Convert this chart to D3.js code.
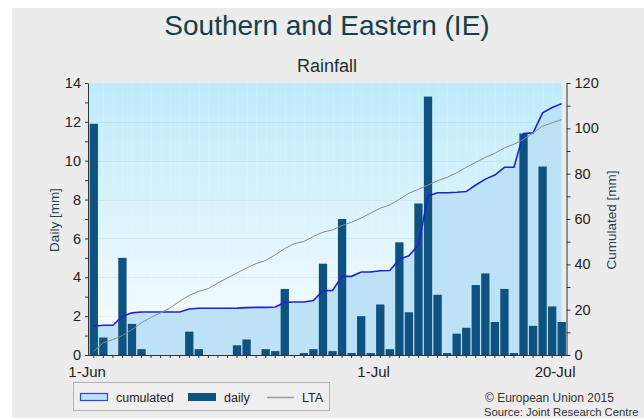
<!DOCTYPE html>
<html>
<head>
<meta charset="utf-8">
<script src="https://cdn.jsdelivr.net/npm/d3@7"></script>
<style>
    body { margin: 0; background: #fff; }
    svg { display: block; }
    text { font-family: "Liberation Sans", Arial, sans-serif; }
</style>
</head>
<body>
<div id="chart"></div>
<script>
// daily categories: 1 Jun - 20 Jul 2015
const days = d3.timeDay.range(new Date(2015, 5, 1), new Date(2015, 6, 21));

const dailyRain = [11.9, 0.9, 0, 5.0, 1.6, 0.3, 0, 0, 0, 0,
    1.2, 0.3, 0, 0, 0, 0.5, 0.8, 0, 0.3, 0.2,
    3.4, 0, 0.1, 0.3, 4.7, 0.2, 7.0, 0.1, 2.0, 0.1,
    2.6, 0.3, 5.8, 2.2, 7.8, 13.3, 3.1, 0.1, 1.1, 1.4,
    3.6, 4.2, 1.7, 3.4, 0.1, 11.4, 1.5, 9.7, 2.5, 1.7];

const cumulatedRain = [12.7, 13.1, 13.1, 17.1, 18.6, 19.0, 19.0, 19.0, 19.0, 19.0,
    20.3, 20.6, 20.6, 20.6, 20.6, 20.7, 20.9, 21.0, 21.0, 21.2,
    23.2, 23.4, 23.4, 24.0, 28.4, 28.5, 34.7, 34.7, 36.6, 36.6,
    37.2, 37.3, 42.3, 43.8, 48.6, 70.2, 71.6, 71.6, 71.8, 72.1,
    75.0, 77.6, 79.4, 82.8, 82.8, 97.7, 98.0, 106.8, 109.2, 110.9];

const ltaRain = [1.7, 5.4, 6.8, 8.6, 11.2, 14.2, 16.6, 18.6, 20.8, 23.7,
    26.3, 28.1, 29.3, 31.8, 34.0, 36.2, 38.4, 40.3, 41.7, 44.2,
    47.0, 49.1, 50.1, 52.3, 54.2, 55.2, 57.1, 58.6, 60.4, 62.6,
    64.8, 66.2, 68.7, 71.4, 73.1, 75.0, 76.9, 78.4, 80.4, 82.8,
    85.0, 87.2, 89.0, 91.4, 93.0, 95.1, 98.0, 101.0, 102.4, 103.9];

const xTickIndex = [0, 30, 49];
const xTickLabels = ['1-Jun', '1-Jul', '20-Jul'];
const dailyTicks = [0, 1, 2, 3, 4, 5, 6, 7, 8, 9, 10, 11, 12, 13, 14];
const cumulatedTicks = [0, 10, 20, 30, 40, 50, 60, 70, 80, 90, 100, 110, 120];

class RainfallChart {
    constructor(container) {
        this.container = container;
        this.width = 644;
        this.height = 418;
        this.plot = { left: 89, right: 566.5, top: 83, bottom: 355 };
        this.renderChart();
        this.renderLegend();
    }

    renderChart() {
        const svg = d3.select(this.container)
            .append('svg')
            .attr('width', this.width)
            .attr('height', this.height);
        this.svg = svg;

        svg.append('rect')
            .attr('x', 12)
            .attr('y', 8)
            .attr('width', this.width - 12)
            .attr('height', this.height - 8)
            .attr('fill', '#ececec');

        const grad = svg.append('defs').append('linearGradient')
            .attr('id', 'plotBg')
            .attr('x1', 0).attr('y1', 0).attr('x2', 0).attr('y2', 1);
        grad.append('stop').attr('offset', '0%').attr('stop-color', '#bdebfb');
        grad.append('stop').attr('offset', '100%').attr('stop-color', '#fbfdfe');

        const idx = d3.range(days.length);

        const xScale = d3.scaleBand()
            .domain(idx)
            .range([this.plot.left, this.plot.right])
            .paddingInner(0.13)
            .paddingOuter(0.065);
        const cx = i => xScale(i) + xScale.bandwidth() / 2;

        const yDaily = d3.scaleLinear().domain([0, 14]).range([this.plot.bottom, this.plot.top]);
        const yCum = d3.scaleLinear().domain([0, 120]).range([this.plot.bottom, this.plot.top]);

        const lastX = cx(days.length - 1);

        svg.append('rect')
            .attr('x', this.plot.left)
            .attr('y', this.plot.top)
            .attr('width', lastX - this.plot.left)
            .attr('height', this.plot.bottom - this.plot.top)
            .attr('fill', 'url(#plotBg)');

        // faint grid
        svg.append('g')
            .selectAll('line')
            .data(idx)
            .enter().append('line')
            .attr('x1', d => Math.round(cx(d)) + 0.5)
            .attr('x2', d => Math.round(cx(d)) + 0.5)
            .attr('y1', this.plot.top)
            .attr('y2', this.plot.bottom)
            .attr('stroke', '#ffffff')
            .attr('stroke-opacity', 0.14);

        svg.append('g')
            .selectAll('line')
            .data([2, 4, 6, 8, 10, 12])
            .enter().append('line')
            .attr('x1', this.plot.left)
            .attr('x2', lastX)
            .attr('y1', d => Math.round(yDaily(d)) + 0.5)
            .attr('y2', d => Math.round(yDaily(d)) + 0.5)
            .attr('stroke', '#000')
            .attr('stroke-opacity', 0.05);

        const area = d3.area()
            .x((d, i) => cx(i))
            .y0(yCum(0))
            .y1(d => yCum(d));

        svg.append('path')
            .datum(cumulatedRain)
            .attr('fill', '#bde2f6')
            .attr('d', area);

        svg.selectAll('.bar')
            .data(dailyRain)
            .enter().append('rect')
            .attr('class', 'bar')
            .attr('x', (d, i) => xScale(i))
            .attr('width', xScale.bandwidth())
            .attr('y', d => yDaily(d))
            .attr('height', d => yDaily(0) - yDaily(d))
            .attr('fill', '#0d5280');

        const cumLine = d3.line()
            .x((d, i) => cx(i))
            .y(d => yCum(d));

        svg.append('path')
            .datum(cumulatedRain)
            .attr('fill', 'none')
            .attr('stroke', '#2020d8')
            .attr('stroke-width', 1.6)
            .attr('d', cumLine);

        svg.append('path')
            .datum(ltaRain)
            .attr('fill', 'none')
            .attr('stroke', '#8a8a8a')
            .attr('stroke-width', 1)
            .attr('d', cumLine);

        // axes
        const left = svg.append('g')
            .attr('transform', `translate(${this.plot.left - 1}, 0)`)
            .call(d3.axisLeft(yDaily)
                .tickValues(dailyTicks)
                .tickFormat(d => d % 2 === 0 ? d : '')
                .tickSize(3)
                .tickSizeOuter(0)
                .tickPadding(4));

        const right = svg.append('g')
            .attr('transform', `translate(${this.plot.right}, 0)`)
            .call(d3.axisRight(yCum)
                .tickValues(cumulatedTicks)
                .tickFormat(d => d % 20 === 0 ? d : '')
                .tickSize(4)
                .tickSizeOuter(0)
                .tickPadding(4));

        const bottom = svg.append('g')
            .attr('transform', `translate(0, ${this.plot.bottom})`)
            .call(d3.axisBottom(xScale)
                .tickFormat('')
                .tickSize(3)
                .tickSizeOuter(0));

        [left, right, bottom].forEach(g => {
            g.select('.domain').attr('stroke', '#333');
            g.selectAll('.tick line').attr('stroke', '#333');
            g.selectAll('text')
                .style('font-family', '"Liberation Sans", Arial, sans-serif')
                .style('font-size', '14.5px')
                .attr('fill', '#222');
        });
        bottom.select('.domain')
            .attr('d', `M${this.plot.left - 1},0.5H${this.plot.right + 0.5}`);

        svg.append('g')
            .selectAll('text')
            .data(xTickIndex)
            .enter().append('text')
            .attr('x', d => xScale(d) - 2.5)
            .attr('y', 376.5)
            .attr('text-anchor', 'middle')
            .style('font-size', '15px')
            .attr('fill', '#222')
            .text((d, i) => xTickLabels[i]);

        svg.append('text')
            .attr('transform', 'translate(58.5, 220) rotate(-90)')
            .attr('text-anchor', 'middle')
            .style('font-size', '13.5px')
            .attr('fill', '#1c4250')
            .text('Daily [mm]');

        svg.append('text')
            .attr('transform', 'translate(616, 220) rotate(-90)')
            .attr('text-anchor', 'middle')
            .style('font-size', '13.5px')
            .attr('fill', '#1c4250')
            .text('Cumulated [mm]');

        svg.append('text')
            .attr('x', 327)
            .attr('y', 35)
            .attr('text-anchor', 'middle')
            .style('font-size', '28px')
            .attr('fill', '#173f4a')
            .text('Southern and Eastern (IE)');

        svg.append('text')
            .attr('x', 327)
            .attr('y', 72)
            .attr('text-anchor', 'middle')
            .style('font-size', '18px')
            .attr('fill', '#1f2f36')
            .text('Rainfall');
    }

    renderLegend() {
        const svg = this.svg;
        const lg = svg.append('g');

        lg.append('rect')
            .attr('x', 73.5).attr('y', 382.5)
            .attr('width', 256).attr('height', 28)
            .attr('fill', '#efefef')
            .attr('stroke', '#b3b3b3');

        lg.append('rect')
            .attr('x', 80.5).attr('y', 393.5)
            .attr('width', 27).attr('height', 7)
            .attr('fill', '#bde2f6')
            .attr('stroke', '#3344dd')
            .attr('stroke-width', 1.2);

        lg.append('rect')
            .attr('x', 188).attr('y', 393)
            .attr('width', 28).attr('height', 8)
            .attr('fill', '#0d5280');

        lg.append('line')
            .attr('x1', 267).attr('x2', 294)
            .attr('y1', 397.5).attr('y2', 397.5)
            .attr('stroke', '#9a9a9a')
            .attr('stroke-width', 1.5);

        const items = [['cumulated', 116], ['daily', 224], ['LTA', 302]];
        lg.selectAll('.lg-text')
            .data(items)
            .enter().append('text')
            .attr('class', 'lg-text')
            .attr('x', d => d[1])
            .attr('y', 402)
            .style('font-size', '12.5px')
            .attr('fill', '#222')
            .text(d => d[0]);

        svg.append('text')
            .attr('x', 485).attr('y', 402)
            .style('font-size', '12px')
            .attr('fill', '#333')
            .text('© European Union 2015');

        svg.append('text')
            .attr('x', 484).attr('y', 416)
            .style('font-size', '11.3px')
            .attr('fill', '#333')
            .text('Source: Joint Research Centre');
    }
}

new RainfallChart(document.getElementById('chart'));
</script>
</body>
</html>
